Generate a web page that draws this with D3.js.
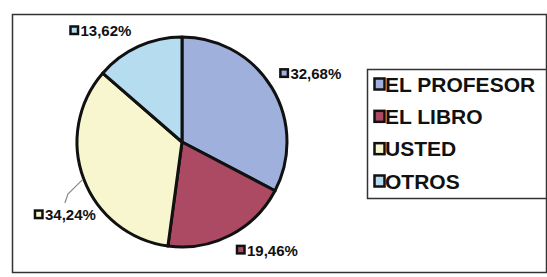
<!DOCTYPE html>
<html>
<head>
<meta charset="utf-8">
<script src="https://cdn.jsdelivr.net/npm/d3@7"></script>
<style>
  html, body { margin: 0; padding: 0; background: #fff; }
  svg { display: block; font-family: Arial, "Liberation Sans", sans-serif; }
</style>
</head>
<body>
<div id="chart"></div>
<script>
// Data
var categories = ["EL PROFESOR", "EL LIBRO", "USTED", "OTROS"];
var values     = [32.68, 19.46, 34.24, 13.62];
var labels     = ["32,68%", "19,46%", "34,24%", "13,62%"];
var colors     = ["#a0b0dc", "#ad4a63", "#f8f6cf", "#b5dcef"];

var width  = 547;
var height = 277;
var cx = 182, cy = 142;
var radius = 105;

// Label nudges (px) relative to the computed outside position
var nudge = [[-7, -5], [-2, 0], [28, 30], [0, 0]];

var svg = d3.select('#chart')
            .append('svg')
            .attr('width', width)
            .attr('height', height);

// chart frame
svg.append('rect')
   .attr('x', 12.5).attr('y', 14.5)
   .attr('width', 534).attr('height', 258)
   .style('fill', '#fff')
   .style('stroke', '#333')
   .style('stroke-width', 1.5);

var pie = d3.pie()
            .sort(null)
            .value(function(d) { return d; });

var arc = d3.arc()
            .innerRadius(0)
            .outerRadius(radius);

var labelArc = d3.arc()
                 .innerRadius(122)
                 .outerRadius(122);

var edgeArc = d3.arc()
                .innerRadius(radius + 1)
                .outerRadius(radius + 1);

var arcs = pie(values);

var g = svg.append('g')
           .attr('transform', 'translate(' + cx + ',' + cy + ')');

g.selectAll('path')
 .data(arcs)
 .enter()
 .append('path')
 .attr('d', arc)
 .style('fill', function(d, i) { return colors[i]; })
 .style('stroke', '#111')
 .style('stroke-width', 3)
 .style('stroke-linejoin', 'round');

// Data labels
var box = 9;
var labelG = g.selectAll('.lbl')
  .data(arcs)
  .enter()
  .append('g')
  .attr('class', 'lbl');

labelG.each(function(d, i) {
  var el = d3.select(this);
  var p = labelArc.centroid(d);
  var right = p[0] > 0;
  var txt = el.append('text')
    .style('font-size', '15px')
    .style('font-weight', 'bold')
    .style('fill', '#111')
    .attr('dy', '0.36em')
    .text(labels[i]);
  var tw = txt.node().getComputedTextLength();
  var total = box + 2 + tw;
  var x0 = (right ? p[0] : p[0] - total) + nudge[i][0];
  var y0 = p[1] + nudge[i][1];
  el.insert('rect', 'text')
    .attr('x', x0 + 1).attr('y', y0 - box / 2)
    .attr('width', box - 1.5).attr('height', box - 1.5)
    .style('fill', colors[i])
    .style('stroke', '#111')
    .style('stroke-width', 2.5);
  txt.attr('x', x0 + box + 2).attr('y', y0);

  // leader line when label was pulled away from the slice
  if (i === 2) {
    var e = edgeArc.centroid(d);
    var lx = x0 + total / 2;
    var ly = y0 - 12;
    g.append('path')
     .attr('d', 'M' + e[0] + ',' + e[1] +
                'L' + (lx + 3) + ',' + (ly - 9) +
                'L' + lx + ',' + ly)
     .style('fill', 'none')
     .style('stroke', '#888')
     .style('stroke-width', 1.2);
  }
});

// Legend
var legend = svg.append('g');
legend.append('rect')
      .attr('x', 367.5).attr('y', 69.5)
      .attr('width', 179).attr('height', 129)
      .style('fill', '#fff')
      .style('stroke', '#333')
      .style('stroke-width', 1.5);

var row = d3.scalePoint()
            .domain(categories)
            .range([84, 181]);

var items = legend.selectAll('.item')
  .data(categories)
  .enter()
  .append('g')
  .attr('class', 'item')
  .attr('transform', function(d) { return 'translate(374,' + row(d) + ')'; });

items.append('rect')
     .attr('x', 0.5).attr('y', -5.5)
     .attr('width', 10).attr('height', 11)
     .style('fill', function(d, i) { return colors[i]; })
     .style('stroke', '#111')
     .style('stroke-width', 2.5);

items.append('text')
     .attr('x', 11)
     .attr('dy', '0.36em')
     .style('font-size', '21px')
     .style('font-weight', 'bold')
     .style('fill', '#111')
     .text(function(d) { return d; });
</script>
</body>
</html>
